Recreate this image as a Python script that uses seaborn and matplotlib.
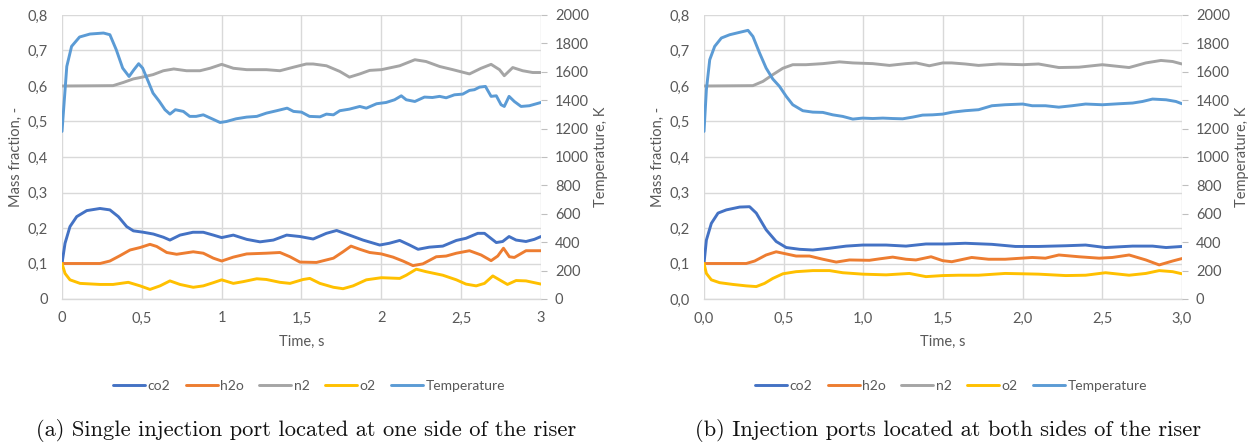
import matplotlib
matplotlib.use("Agg")
import matplotlib.pyplot as plt
from matplotlib.ticker import FuncFormatter, MultipleLocator
import seaborn as sns
import pandas as pd

# ---------------- (a) single injection port ----------------
t_co2_a = [0, 0.019, 0.05, 0.092, 0.155, 0.238, 0.30, 0.353, 0.405, 0.447,
           0.51, 0.572, 0.635, 0.676, 0.739, 0.82, 0.885, 0.948, 1.0, 1.073,
           1.157, 1.24, 1.324, 1.407, 1.49, 1.573, 1.656, 1.72, 1.80, 1.885,
           1.99, 2.05, 2.115, 2.177, 2.23, 2.30, 2.385, 2.47, 2.53, 2.604,
           2.646, 2.72, 2.76, 2.80, 2.844, 2.906, 2.958, 3.0]
co2_a = [0.100, 0.157, 0.204, 0.232, 0.249, 0.255, 0.251, 0.232, 0.204, 0.192,
         0.188, 0.183, 0.174, 0.166, 0.180, 0.188, 0.188, 0.180, 0.173, 0.180,
         0.168, 0.161, 0.166, 0.180, 0.176, 0.169, 0.185, 0.193, 0.180, 0.166,
         0.152, 0.157, 0.165, 0.152, 0.140, 0.146, 0.149, 0.165, 0.171, 0.185,
         0.185, 0.159, 0.162, 0.176, 0.166, 0.162, 0.168, 0.176]

t_h2o_a = [0, 0.238, 0.30, 0.363, 0.426, 0.489, 0.551, 0.593, 0.656, 0.718,
           0.822, 0.885, 0.948, 1.0, 1.073, 1.157, 1.28, 1.365, 1.428, 1.49,
           1.594, 1.70, 1.76, 1.81, 1.865, 1.927, 2.0, 2.073, 2.135, 2.198,
           2.26, 2.344, 2.406, 2.47, 2.552, 2.625, 2.6875, 2.729, 2.765, 2.802,
           2.833, 2.906, 3.0]
h2o_a = [0.100, 0.100, 0.107, 0.122, 0.138, 0.145, 0.154, 0.148, 0.131, 0.126,
         0.133, 0.129, 0.115, 0.107, 0.118, 0.127, 0.129, 0.131, 0.119, 0.104,
         0.103, 0.115, 0.133, 0.149, 0.140, 0.131, 0.127, 0.118, 0.107, 0.094,
         0.099, 0.119, 0.121, 0.129, 0.136, 0.124, 0.108, 0.121, 0.143, 0.119,
         0.117, 0.136, 0.136]

t_n2_a = [0, 0.32, 0.384, 0.447, 0.503, 0.57, 0.635, 0.70, 0.78, 0.864,
          0.927, 1.0, 1.073, 1.157, 1.28, 1.365, 1.45, 1.53, 1.573, 1.656,
          1.74, 1.80, 1.865, 1.927, 2.0, 2.115, 2.21, 2.28, 2.365, 2.448,
          2.552, 2.625, 2.6875, 2.74, 2.77, 2.823, 2.885, 2.948, 3.0]
n2_a = [0.600, 0.601, 0.610, 0.620, 0.625, 0.632, 0.643, 0.648, 0.643, 0.643,
        0.650, 0.661, 0.650, 0.646, 0.646, 0.643, 0.653, 0.662, 0.662, 0.657,
        0.641, 0.625, 0.634, 0.644, 0.646, 0.657, 0.674, 0.669, 0.655, 0.646,
        0.634, 0.650, 0.661, 0.646, 0.629, 0.652, 0.643, 0.638, 0.638]

t_o2_a = [0, 0.019, 0.05, 0.113, 0.238, 0.32, 0.415, 0.489, 0.551, 0.614,
          0.676, 0.739, 0.822, 0.885, 0.948, 1.0, 1.073, 1.136, 1.22, 1.28,
          1.365, 1.428, 1.51, 1.552, 1.615, 1.70, 1.76, 1.823, 1.906, 2.0,
          2.115, 2.156, 2.219, 2.28, 2.385, 2.47, 2.53, 2.594, 2.646, 2.698,
          2.74, 2.79, 2.844, 2.906, 3.0]
o2_a = [0.100, 0.072, 0.054, 0.044, 0.041, 0.041, 0.047, 0.037, 0.027, 0.037,
        0.051, 0.041, 0.033, 0.037, 0.046, 0.054, 0.044, 0.049, 0.057, 0.055,
        0.047, 0.044, 0.055, 0.058, 0.044, 0.033, 0.029, 0.037, 0.054, 0.060,
        0.058, 0.067, 0.084, 0.077, 0.067, 0.054, 0.042, 0.037, 0.044, 0.065,
        0.054, 0.041, 0.052, 0.051, 0.042]

t_temp_a = [0, 0.03, 0.06, 0.11, 0.175, 0.26, 0.30, 0.34, 0.38, 0.42,
            0.45, 0.48, 0.505, 0.54, 0.57, 0.61, 0.645, 0.676, 0.71, 0.76,
            0.80, 0.84, 0.885, 0.93, 0.99, 1.03, 1.09, 1.157, 1.22, 1.28,
            1.345, 1.41, 1.45, 1.5, 1.55, 1.616, 1.656, 1.70, 1.74, 1.80,
            1.865, 1.906, 1.97, 2.03, 2.083, 2.125, 2.156, 2.21, 2.27, 2.32,
            2.365, 2.406, 2.458, 2.51, 2.552, 2.583, 2.615, 2.652, 2.6875, 2.72,
            2.75, 2.77, 2.80, 2.833, 2.875, 2.927, 3.0]
temp_a = [1180, 1638, 1779, 1845, 1866, 1873, 1861, 1755, 1626, 1567,
          1614, 1657, 1626, 1532, 1450, 1391, 1333, 1302, 1333, 1321,
          1286, 1286, 1297, 1274, 1243, 1250, 1269, 1281, 1286, 1309,
          1326, 1344, 1321, 1316, 1286, 1283, 1302, 1297, 1326, 1337,
          1356, 1344, 1375, 1384, 1403, 1431, 1403, 1391, 1422, 1419,
          1427, 1417, 1438, 1443, 1469, 1474, 1492, 1497, 1427, 1431,
          1368, 1356, 1427, 1391, 1356, 1361, 1384]

# ---------------- (b) ports at both sides ----------------
t_co2_b = [0, 0.015, 0.046, 0.088, 0.14, 0.224, 0.286, 0.328, 0.39, 0.453,
           0.516, 0.6, 0.683, 0.788, 0.892, 0.996, 1.143, 1.268, 1.393, 1.519,
           1.64, 1.807, 1.954, 2.1, 2.27, 2.395, 2.52, 2.69, 2.815, 2.9, 3.0]
co2_b = [0.100, 0.166, 0.213, 0.242, 0.251, 0.259, 0.260, 0.242, 0.195, 0.162,
         0.145, 0.140, 0.138, 0.143, 0.149, 0.152, 0.152, 0.149, 0.155, 0.155,
         0.157, 0.154, 0.148, 0.148, 0.150, 0.152, 0.145, 0.149, 0.149, 0.145, 0.148]

t_h2o_b = [0, 0.265, 0.318, 0.39, 0.453, 0.516, 0.578, 0.662, 0.746, 0.83,
           0.913, 1.038, 1.1, 1.184, 1.268, 1.33, 1.425, 1.498, 1.555, 1.68,
           1.786, 1.89, 2.06, 2.143, 2.227, 2.353, 2.48, 2.563, 2.668, 2.773,
           2.857, 2.941, 3.0]
h2o_b = [0.100, 0.100, 0.107, 0.124, 0.133, 0.127, 0.121, 0.121, 0.112, 0.104,
         0.110, 0.109, 0.113, 0.118, 0.112, 0.110, 0.119, 0.108, 0.105, 0.117,
         0.112, 0.112, 0.117, 0.115, 0.124, 0.119, 0.115, 0.117, 0.124, 0.110,
         0.096, 0.107, 0.114]

t_n2_b = [0, 0.307, 0.37, 0.432, 0.495, 0.557, 0.64, 0.746, 0.85, 0.934,
          1.059, 1.164, 1.268, 1.331, 1.414, 1.498, 1.555, 1.64, 1.723, 1.85,
          2.0, 2.1, 2.227, 2.353, 2.5, 2.668, 2.773, 2.868, 2.941, 3.0]
n2_b = [0.600, 0.601, 0.613, 0.632, 0.650, 0.660, 0.660, 0.663, 0.668, 0.665,
        0.663, 0.658, 0.663, 0.665, 0.657, 0.665, 0.665, 0.662, 0.658, 0.662,
        0.660, 0.662, 0.652, 0.653, 0.660, 0.652, 0.665, 0.672, 0.669, 0.662]

t_o2_b = [0, 0.015, 0.046, 0.098, 0.182, 0.265, 0.328, 0.38, 0.432, 0.495,
          0.578, 0.683, 0.788, 0.871, 0.996, 1.143, 1.289, 1.393, 1.498, 1.597,
          1.723, 1.89, 2.0, 2.1, 2.27, 2.395, 2.52, 2.668, 2.773, 2.857,
          2.941, 3.0]
o2_b = [0.100, 0.072, 0.054, 0.046, 0.041, 0.037, 0.035, 0.044, 0.058, 0.071,
        0.077, 0.080, 0.080, 0.074, 0.070, 0.068, 0.072, 0.063, 0.066, 0.067,
        0.067, 0.072, 0.071, 0.070, 0.066, 0.067, 0.074, 0.067, 0.072, 0.080,
        0.077, 0.071]

t_temp_b = [0, 0.015, 0.036, 0.067, 0.109, 0.161, 0.224, 0.276, 0.307, 0.349,
            0.39, 0.432, 0.474, 0.516, 0.557, 0.62, 0.683, 0.746, 0.808, 0.87,
            0.934, 0.996, 1.059, 1.122, 1.184, 1.247, 1.31, 1.372, 1.435, 1.498,
            1.56, 1.64, 1.723, 1.807, 1.89, 2.0, 2.06, 2.143, 2.227, 2.31,
            2.395, 2.5, 2.605, 2.69, 2.752, 2.815, 2.9, 2.962, 3.0]
temp_b = [1180, 1474, 1685, 1779, 1838, 1861, 1878, 1892, 1849, 1732,
          1626, 1549, 1497, 1427, 1368, 1326, 1316, 1314, 1297, 1286,
          1267, 1274, 1271, 1274, 1271, 1269, 1281, 1295, 1297, 1302,
          1316, 1326, 1333, 1361, 1368, 1373, 1361, 1361, 1351, 1361,
          1373, 1368, 1375, 1380, 1391, 1408, 1403, 1391, 1375]

species = ["co2", "h2o", "n2", "o2"]
colors = {"co2": "#4472C4", "h2o": "#ED7D31", "n2": "#A5A5A5",
          "o2": "#FFC000", "Temperature": "#5B9BD5"}
captions = ["(a) Single injection port located at one side of the riser",
            "(b) Injection ports located at both sides of the riser"]

panels = [
    {"species": {"co2": (t_co2_a, co2_a), "h2o": (t_h2o_a, h2o_a),
                 "n2": (t_n2_a, n2_a), "o2": (t_o2_a, o2_a)},
     "temp": (t_temp_a, temp_a), "one_decimal": False},
    {"species": {"co2": (t_co2_b, co2_b), "h2o": (t_h2o_b, h2o_b),
                 "n2": (t_n2_b, n2_b), "o2": (t_o2_b, o2_b)},
     "temp": (t_temp_b, temp_b), "one_decimal": True},
]

sns.set_theme(style="white")
plt.rcParams["font.family"] = ["Lato", "DejaVu Sans"]

W, H = 1257, 446
fig = plt.figure(figsize=(W / 100, H / 100), dpi=100)

TXT = "#595959"
GRID = "#D9D9D9"
LW = 2.1

ax_boxes = [(62, 479), (704, 478)]
legend_x = [309, 951]
caption_x = [306, 948]
top_px, bot_px = 15, 299


def comma_fmt(one_decimal):
    def f(v, _):
        s = f"{v:.1f}" if one_decimal else f"{v:g}"
        return s.replace(".", ",")
    return FuncFormatter(f)


for i, p in enumerate(panels):
    x0, w = ax_boxes[i]
    ax = fig.add_axes([x0 / W, 1 - bot_px / H, w / W, (bot_px - top_px) / H])
    ax2 = ax.twinx()

    for name in species:
        t, v = p["species"][name]
        df = pd.DataFrame({"Time": t, "Value": v})
        sns.lineplot(data=df, x="Time", y="Value", ax=ax, color=colors[name],
                     lw=LW, label=name, legend=False, sort=False)
    tt, tv = p["temp"]
    dft = pd.DataFrame({"Time": tt, "Temperature": tv})
    sns.lineplot(data=dft, x="Time", y="Temperature", ax=ax2,
                 color=colors["Temperature"], lw=LW, label="Temperature",
                 legend=False, sort=False)

    ax.set_xlim(0, 3)
    ax.set_ylim(0, 0.8)
    ax2.set_ylim(0, 2000)
    ax.xaxis.set_major_locator(MultipleLocator(0.5))
    ax.yaxis.set_major_locator(MultipleLocator(0.1))
    ax2.yaxis.set_major_locator(MultipleLocator(200))
    ax.xaxis.set_major_formatter(comma_fmt(p["one_decimal"]))
    ax.yaxis.set_major_formatter(comma_fmt(p["one_decimal"]))

    ax.grid(True, color=GRID, lw=1.0)
    ax2.grid(False)
    ax.set_axisbelow(True)
    for s in ["top", "left", "right"]:
        ax.spines[s].set_visible(False)
        ax2.spines[s].set_visible(False)
    ax2.spines["bottom"].set_visible(False)
    ax.spines["bottom"].set_color(GRID)
    ax.spines["bottom"].set_linewidth(1.0)

    ax.tick_params(axis="both", length=0, labelsize=10.5, labelcolor=TXT)
    ax.tick_params(axis="y", pad=10)
    ax.tick_params(axis="x", pad=9)
    ax2.tick_params(axis="y", length=4, width=0.8, color="#BFBFBF",
                    labelsize=10.5, labelcolor=TXT, pad=6, direction="out")

    ax.set_xlabel("Time, s", fontsize=10.5, color=TXT)
    ax.set_ylabel("Mass fraction, -", fontsize=10.5, color=TXT)
    ax2.set_ylabel("Temperature, K", fontsize=10.5, color=TXT)
    ax.xaxis.set_label_coords(0.5, -36 / 284)
    ax.yaxis.set_label_coords(-39 / w, 0.5)
    ax2.yaxis.set_label_coords(1 + 53 / w, 0.5)

    handles = ax.get_lines()[:4] + ax2.get_lines()[:1]
    labels = species + ["Temperature"]
    ax.legend(handles, labels, loc="center",
              bbox_to_anchor=((legend_x[i] - x0) / w, -0.306),
              ncol=5, frameon=False, fontsize=10, handlelength=2.3,
              handletextpad=0.2, columnspacing=1.08, labelcolor=TXT)

    fig.text(caption_x[i] / W, 1 - 430 / H, captions[i], ha="center",
             va="center", fontsize=16.2, family=["cmr10", "DejaVu Serif"],
             color="#111111")

fig.savefig("out.png", dpi=100)
